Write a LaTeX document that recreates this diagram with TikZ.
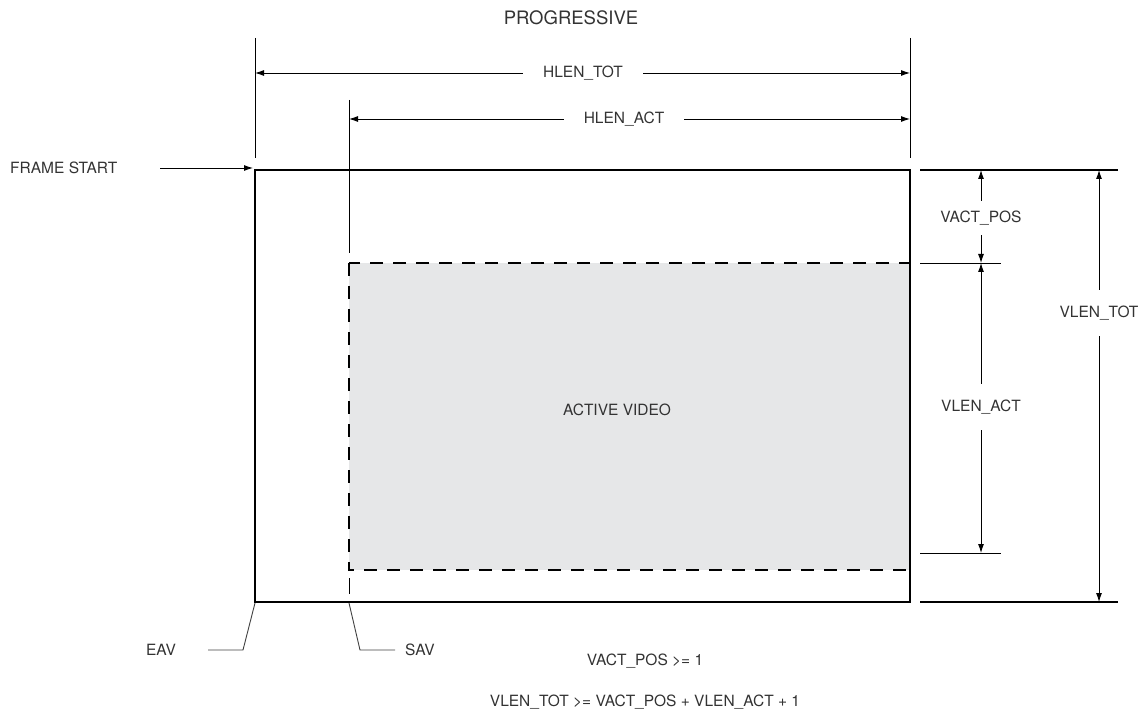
\documentclass[tikz,border=0pt]{standalone}
\usepackage{fontspec}
\setmainfont{TeX Gyre Heros}
\usetikzlibrary{arrows.meta}
\definecolor{actgray}{HTML}{E6E7E8}
\definecolor{txtgray}{HTML}{333333}
\begin{document}
\begin{tikzpicture}[x=1pt,y=-1pt,
  lbl/.style={font=\fontsize{15.5}{18}\selectfont, text=txtgray, inner sep=2pt},
  hlbl/.style={lbl, inner xsep=20pt},
  vlbl/.style={lbl, inner ysep=16pt},
  thinline/.style={line width=0.9pt},
  dimarrow/.style={line width=0.9pt,-{Latex[length=9pt,width=6pt]}},
  framebox/.style={line width=1.8pt},
  actbox/.style={line width=1.8pt, dash pattern=on 13pt off 10pt, fill=actgray}]
\useasboundingbox (0,0) rectangle (1143,719);

% title
\node[lbl, font=\fontsize{18.5}{22}\selectfont] (title) at (571,18) {PROGRESSIVE};

% coordinates
\coordinate (TL) at (255,170);
\coordinate (BR) at (910,602);
\coordinate (ATL) at (349,263);
\coordinate (ABR) at (910,570);

% active video
\draw[actbox] (ATL) rectangle (ABR);
\node[lbl] (act) at (617,410) {ACTIVE VIDEO};

% frame
\draw[framebox] (TL) rectangle (BR);

% extension lines top
\coordinate (e1a) at (255,38);  \coordinate (e1b) at (255,158);
\coordinate (e2a) at (910,38);  \coordinate (e2b) at (910,158);
\coordinate (e3a) at (349,100); \coordinate (e3b) at (349,253);
\coordinate (e4a) at (349,578); \coordinate (e4b) at (349,594);
\draw[thinline] (e1a) -- (e1b);
\draw[thinline] (e2a) -- (e2b);
\draw[thinline] (e3a) -- (e3b);
\draw[thinline] (e4a) -- (e4b);

% HLEN_TOT
\node[hlbl] (hlt) at (583,73) {HLEN\_TOT};
\coordinate (hltL) at (255,73); \coordinate (hltR) at (910,73);
\draw[dimarrow] (hlt.west) -- (hltL);
\draw[dimarrow] (hlt.east) -- (hltR);

% HLEN_ACT
\node[hlbl] (hla) at (624,119) {HLEN\_ACT};
\coordinate (hlaL) at (349,119); \coordinate (hlaR) at (910,119);
\draw[dimarrow] (hla.west) -- (hlaL);
\draw[dimarrow] (hla.east) -- (hlaR);

% FRAME START
\node[lbl, anchor=west] (fs) at (8,168) {FRAME START};
\coordinate (fsa) at (160,168); \coordinate (fsb) at (253,168);
\draw[dimarrow] (fsa) -- (fsb);

% right extension lines
\coordinate (r1a) at (920,170); \coordinate (r1b) at (1118,170);
\coordinate (r2a) at (920,263); \coordinate (r2b) at (1001,263);
\coordinate (r3a) at (920,553); \coordinate (r3b) at (1001,553);
\coordinate (r4a) at (920,602); \coordinate (r4b) at (1118,602);
\draw[line width=1.3pt] (r1a) -- (r1b);
\draw[thinline] (r2a) -- (r2b);
\draw[thinline] (r3a) -- (r3b);
\draw[line width=1.3pt] (r4a) -- (r4b);

% VACT_POS
\node[lbl, inner ysep=10pt] (vap) at (981,218) {VACT\_POS};
\coordinate (vapT) at (981,170); \coordinate (vapB) at (981,263);
\draw[dimarrow] (vap.north) -- (vapT);
\draw[dimarrow] (vap.south) -- (vapB);

% VLEN_ACT
\node[vlbl] (vla) at (981,407) {VLEN\_ACT};
\coordinate (vlaT) at (981,263); \coordinate (vlaB) at (981,553);
\draw[dimarrow] (vla.north) -- (vlaT);
\draw[dimarrow] (vla.south) -- (vlaB);

% VLEN_TOT
\node[vlbl] (vlt) at (1099,313) {VLEN\_TOT};
\coordinate (vltT) at (1099,170); \coordinate (vltB) at (1099,602);
\draw[dimarrow] (vlt.north) -- (vltT);
\draw[dimarrow] (vlt.south) -- (vltB);

% EAV / SAV leaders
\node[lbl] (eav) at (161,650) {EAV};
\node[lbl] (sav) at (420,650) {SAV};
\coordinate (eavk) at (243,650); \coordinate (eavs) at (255,603);
\coordinate (eave) at (208,650);
\coordinate (savk) at (360,650); \coordinate (savs) at (349,603);
\coordinate (save) at (395,650);
\draw[thinline, black!75] (eavs) -- (eavk) -- (eave);
\draw[thinline, black!75] (savs) -- (savk) -- (save);

% equations
\node[lbl] (eq1) at (645,661) {VACT\_POS >= 1};
\node[lbl] (eq2) at (645,702) {VLEN\_TOT >= VACT\_POS + VLEN\_ACT + 1};
\end{tikzpicture}
\end{document}
